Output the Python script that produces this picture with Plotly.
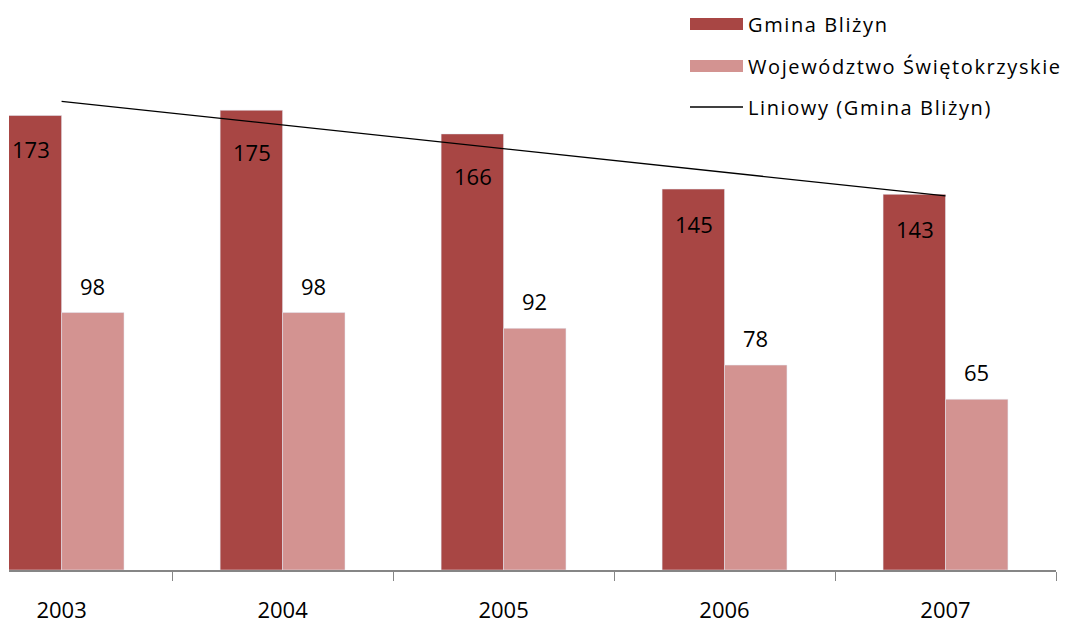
import numpy as np
import plotly.graph_objects as go

lata = ["2003", "2004", "2005", "2006", "2007"]
gmina = [173, 175, 166, 145, 143]
wojewodztwo = [98, 98, 92, 78, 65]

nazwa_gmina = "Gmina Bliżyn"
nazwa_woj = "Województwo Świętokrzyskie"
nazwa_trend = "Liniowy (Gmina Bliżyn)"

kolor_gmina = "#A84644"
kolor_woj = "#D39391"
czcionka = "Open Sans"

W, H = 1074, 623
L, R, T, B = 9, 18, 0, 53

# linia trendu liczona z danych gminy (regresja liniowa jak w Excelu)
idx = np.arange(len(lata))
a, b = np.polyfit(idx, gmina, 1)
trend = a * idx + b

fig = go.Figure()
fig.add_trace(go.Bar(x=lata, y=gmina, name=nazwa_gmina, marker_color=kolor_gmina,
                     showlegend=False))
fig.add_trace(go.Bar(x=lata, y=wojewodztwo, name=nazwa_woj, marker_color=kolor_woj,
                     showlegend=False))
fig.add_trace(go.Scatter(x=lata, y=trend, mode="lines", name=nazwa_trend,
                         line=dict(color="black", width=1.3), showlegend=False))

# etykiety danych (x jako indeks kategorii); Excel zsuwa niektore nizej przez linie trendu
przes_gmina = [-33, -42, -42, -35, -35]
for i, g, w, dy in zip(idx, gmina, wojewodztwo, przes_gmina):
    fig.add_annotation(x=int(i), y=g, text=str(g), showarrow=False, xshift=-31, yshift=dy,
                       font=dict(family=czcionka, size=22, color="black"))
    fig.add_annotation(x=int(i), y=w, text=str(w), showarrow=False, xshift=31, yshift=27,
                       font=dict(family=czcionka, size=22, color="black"))

# legenda rysowana recznie (szerokie prostokaty jak w Excelu)
def px(x):
    return (x - L) / (W - L - R)

def py(y):
    return (H - B - y) / (H - B - T)

legenda = [(nazwa_gmina, kolor_gmina, 24, "rect"),
           (nazwa_woj, kolor_woj, 66, "rect"),
           (nazwa_trend, "black", 107, "line")]
for tekst, kolor, yy, typ in legenda:
    if typ == "rect":
        fig.add_shape(type="rect", xref="paper", yref="paper", x0=px(690), x1=px(743),
                      y0=py(yy + 6), y1=py(yy - 6), fillcolor=kolor, line_width=0)
    else:
        fig.add_shape(type="line", xref="paper", yref="paper", x0=px(690), x1=px(743),
                      y0=py(yy), y1=py(yy), line=dict(color=kolor, width=1.3))
    fig.add_annotation(xref="paper", yref="paper", x=px(746), y=py(yy),
                       text='<span style="letter-spacing:1.6px">%s</span>' % tekst,
                       showarrow=False, xanchor="left", yanchor="middle",
                       font=dict(family=czcionka, size=20, color="black"))

fig.update_xaxes(type="category", range=[-0.238, 4.5], showline=True, linecolor="#868686",
                 linewidth=1.7, ticks="outside", tickson="boundaries", ticklen=9,
                 tickcolor="#868686", tickwidth=1, ticklabelstandoff=20, showgrid=False,
                 automargin=False,
                 tickfont=dict(family=czcionka, size=22, color="black"))
fig.update_yaxes(range=[0, (H - B - T) / 2.627], visible=False, automargin=False)

fig.update_layout(width=W, height=H, margin=dict(l=L, r=R, t=T, b=B),
                  barmode="group", bargap=0.435, bargroupgap=0,
                  paper_bgcolor="white", plot_bgcolor="white",
                  font=dict(family=czcionka))

fig.write_html("out.html", config={"displayModeBar": False},
               post_script="document.body.style.margin='0';")
